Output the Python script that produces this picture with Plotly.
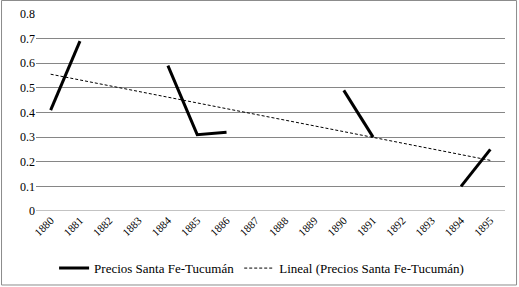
import numpy as np
import plotly.graph_objects as go

years = ["1880", "1881", "1882", "1883", "1884", "1885", "1886", "1887",
         "1888", "1889", "1890", "1891", "1892", "1893", "1894", "1895"]
precios = [0.41, 0.69, None, None, 0.59, 0.31, 0.32, None,
           None, None, 0.49, 0.30, None, None, 0.10, 0.25]
y_ticks = [0, 0.1, 0.2, 0.3, 0.4, 0.5, 0.6, 0.7, 0.8]
y_labels = ["0", "0.1", "0.2", "0.3", "0.4", "0.5", "0.6", "0.7", "0.8"]

idx = np.arange(len(years))
valid = [(i, v) for i, v in zip(idx, precios) if v is not None]
xv = np.array([p[0] for p in valid], dtype=float)
yv = np.array([p[1] for p in valid], dtype=float)
slope, intercept = np.polyfit(xv + 1, yv, 1)
trend = slope * (idx + 1) + intercept

FONT = "Liberation Serif"

fig = go.Figure()
fig.add_trace(go.Scatter(
    x=idx, y=precios, mode="lines", connectgaps=False,
    name="Precios Santa Fe-Tucumán",
    line=dict(color="black", width=3)))
fig.add_trace(go.Scatter(
    x=idx, y=trend, mode="lines",
    name="Lineal (Precios Santa Fe-Tucumán)",
    line=dict(color="black", width=1, dash="3px,2px")))

fig.update_layout(
    template="none",
    width=519, height=287,
    margin=dict(l=36, r=14, t=14, b=76, autoexpand=False),
    paper_bgcolor="white", plot_bgcolor="white",
    font=dict(family=FONT, size=12, color="black"),
    showlegend=True,
    legend=dict(orientation="h", x=0.481, xanchor="center", y=-0.29, yanchor="middle",
                font=dict(family=FONT, size=13, color="black"),
                itemwidth=30, tracegroupgap=0, bgcolor="rgba(0,0,0,0)"),
    xaxis=dict(range=[-0.5, 15.5], tickvals=idx, ticktext=years, tickangle=-45,
               showgrid=False, zeroline=False, showline=False, ticks="",
               automargin=False,
               tickfont=dict(family=FONT, size=11, color="black")),
    yaxis=dict(range=[0, 0.8], tickvals=y_ticks, ticktext=y_labels,
               showgrid=True, gridcolor="#868686", gridwidth=1,
               zeroline=False, showline=False, ticks="", automargin=False,
               tickfont=dict(family=FONT, size=12, color="black")),
    shapes=[
        dict(type="line", xref="paper", yref="y", x0=0, x1=1, y0=0, y1=0,
             line=dict(color="#868686", width=1)),
        dict(type="rect", xref="paper", yref="paper",
             x0=-0.0735, x1=1.0246, y0=-0.3756, y1=1.0685,
             line=dict(color="#8c8c8c", width=1), layer="above"),
    ],
)

post = ("document.documentElement.style.margin='0';"
        "document.body.style.margin='0';document.body.style.padding='0';")
fig.write_html("out.html", include_plotlyjs=True, post_script=post,
               config={"displayModeBar": False})
